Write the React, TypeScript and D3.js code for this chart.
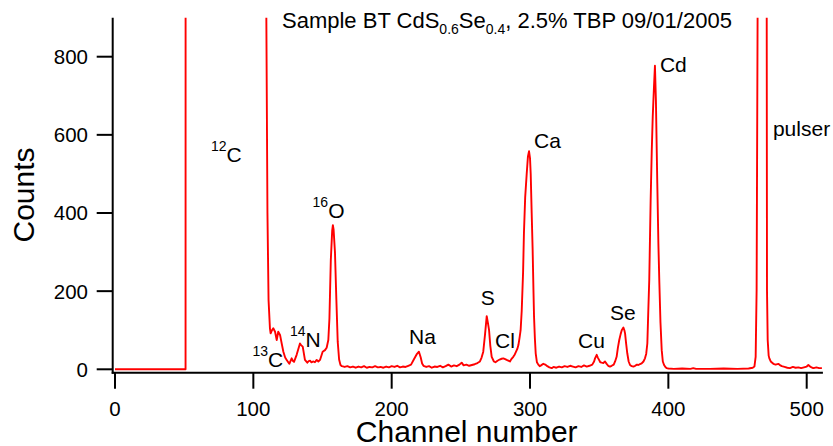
import React from "react";
import * as d3 from "d3";

// ---- data (channel, counts) ----
const channels: number[] = [
  0, 51, 51.2, 108.5, 109.4, 110.2, 111, 112, 112.5, 113.5, 114.4, 115.7, 116.9, 118, 119.3, 120.5, 121.7, 123, 124.1, 126,
  127.7, 128.5, 129.4, 131.3, 133.7, 134.5, 135.7, 137.3, 139, 140, 141, 142, 143.4, 144.5, 145.8, 147, 148.2, 150.1, 151.8, 153,
  154.2, 155, 156, 157, 157.5, 158, 159, 160, 161, 162, 163, 164, 166, 168, 170, 172, 174, 176, 178, 180,
  182, 184, 186, 188, 190, 192, 194, 196, 198, 200, 202, 204, 206, 208, 210, 212, 214, 216, 218, 219.7,
  221, 222, 223, 225, 227, 229, 231, 233, 235, 237, 239, 241, 243, 245, 247, 249, 250.6, 252, 254, 256,
  258, 260, 262, 263.8, 265, 266.2, 267.5, 268.7, 269.5, 270.4, 271.3, 272.3, 273.9, 275, 276.5, 278, 279.5, 280.7, 282, 283.1,
  284.3, 285.5, 286.5, 287.9, 289, 289.9, 290.8, 291.6, 292.4, 293.2, 294, 295, 295.6, 296.5, 297.6, 298.5, 299.3, 300, 300.5, 301.2,
  301.9, 302.5, 302.9, 303.5, 304.1, 305, 306, 307, 308, 309.6, 311, 312.5, 314, 315.7, 317, 319, 321, 323, 325, 327,
  329, 331, 333, 335, 337, 339, 341, 343, 345, 346.3, 347, 348.2, 349, 349.9, 350.8, 351.8, 353, 354.2, 355.4, 356.5,
  357.8, 359, 360.5, 361.5, 362.6, 363.5, 364.5, 365.5, 366.3, 367.5, 368.2, 368.7, 369.5, 370.3, 371.3, 372.3, 373.5, 374.7, 376, 377.3,
  378.3, 379.5, 380.7, 382, 383.1, 384, 384.8, 385.5, 386.2, 387.2, 388, 388.7, 389.6, 390.3, 391, 392, 392.8, 393.5, 394.3, 395.2,
  396, 396.9, 398, 398.8, 400, 404, 410, 416, 418, 420, 430, 440, 450, 458, 461, 462.2, 463.1, 463.8, 464.5, 465,
  470.5, 471.1, 471.3, 471.8, 472.5, 473, 474, 475.9, 477.5, 479.5, 481, 482, 484, 486, 487.9, 490, 492, 494, 496, 498,
  500, 501.2, 502.5, 504, 505, 507, 509, 511,
];
const counts: number[] = [
  0, 0, 6000, 3000, 900, 400, 177, 105, 92, 100, 105, 96, 75, 96, 88, 66, 45, 30, 24, 14,
  28, 22, 19, 37, 66, 62, 58, 24, 17, 21, 22, 18, 20, 18, 24, 20, 24, 45, 49, 55,
  75, 130, 280, 355, 369, 358, 300, 180, 70, 25, 11, 8, 6, 8, 5, 7, 4, 7, 5, 8,
  4, 6, 5, 8, 5, 6, 4, 7, 5, 8, 6, 9, 5, 7, 6, 9, 12, 25, 38, 45,
  30, 15, 9, 6, 8, 4, 7, 6, 9, 5, 8, 12, 7, 10, 8, 12, 17, 10, 12, 9,
  11, 13, 16, 20, 30, 45, 90, 136, 120, 100, 60, 32, 20, 18, 22, 25, 27, 28, 26, 24,
  22, 20, 26, 32, 38, 45, 52, 62, 80, 100, 150, 250, 348, 440, 500, 545, 558, 540, 500, 400,
  305, 200, 135, 80, 41, 18, 12, 8, 10, 14, 12, 8, 5, 3, 6, 4, 7, 5, 8, 6,
  9, 7, 5, 8, 6, 10, 7, 9, 12, 20, 28, 37, 30, 24, 18, 17, 16, 20, 14, 9,
  7, 9, 12, 20, 32, 55, 75, 90, 100, 107, 100, 92, 65, 41, 20, 11, 8, 7, 9, 12,
  11, 13, 15, 20, 28, 40, 66, 150, 230, 433, 560, 646, 723, 777, 689, 476, 320, 220, 120, 49,
  20, 11, 5, 3, 2, 1, 2, 1, 3, 1, 1, 2, 1, 2, 4, 7, 32, 203, 900, 6000,
  6000, 900, 203, 75, 35, 28, 20, 14, 12, 14, 10, 8, 6, 4, 3, 6, 4, 5, 3, 5,
  7, 11, 7, 4, 3, 5, 3, 3,
];

const xTicks: number[] = [0, 100, 200, 300, 400, 500];
const yTicks: number[] = [0, 200, 400, 600, 800];

// peak labels: superscript, element, anchor channel, anchor counts
const labelSup: string[] = ["12", "13", "14", "16", "", "", "", "", "", "", "", ""];
const labelText: string[] = ["C", "C", "N", "O", "Na", "S", "Cl", "Ca", "Cu", "Se", "Cd", "pulser"];
const labelChannel: number[] = [69.4, 99.4, 126.5, 142.8, 212.5, 264.3, 274.7, 302.9, 334.7, 357.8, 393.9, 475.6];
const labelCounts: number[] = [530, 7, 58, 386, 66, 164, 54, 567, 54, 126, 760, 596];

const FONT = "'Liberation Sans', Arial, Helvetica, sans-serif";

export default function App() {
  const x = d3.scaleLinear().domain([0, 500]).range([115, 806.7]);
  const y = d3.scaleLinear().domain([0, 800]).range([369.3, 56.7]);
  const axisX = 112.7;
  const axisY = 372.7;
  const yTop = y(900);
  const xRight = x(511) + 1;

  const pts: [number, number][] = channels.map((c, i) => [c, counts[i]]);
  const line = d3
    .line<[number, number]>()
    .x((d) => x(d[0]))
    .y((d) => y(d[1]));

  return (
    <svg
      width={833}
      height={446}
      style={{ position: "absolute", left: 0, top: 0, background: "#fff" }}
      fontFamily={FONT}
    >
      <defs>
        <clipPath id="plotclip">
          <rect x={axisX} y={yTop} width={833 - axisX} height={axisY - yTop} />
        </clipPath>
      </defs>
      <rect x={0} y={0} width={833} height={446} fill="#fff" />

      {/* spectrum */}
      <path
        d={line(pts) || ""}
        fill="none"
        stroke="#ff0000"
        strokeWidth={1.9}
        strokeLinejoin="round"
        clipPath="url(#plotclip)"
      />

      {/* y axis */}
      <line x1={axisX} x2={axisX} y1={yTop} y2={axisY + 1} stroke="#000" strokeWidth={2} />
      {yTicks.map((t) => (
        <g key={"yt" + t}>
          <line x1={axisX - 16} x2={axisX} y1={y(t)} y2={y(t)} stroke="#000" strokeWidth={2} />
          <text x={88} y={y(t)} dy="0.36em" textAnchor="end" fontSize={20.5} fill="#000">
            {t}
          </text>
        </g>
      ))}

      {/* x axis */}
      <line x1={axisX - 1} x2={xRight} y1={axisY} y2={axisY} stroke="#000" strokeWidth={2} />
      {xTicks.map((t) => (
        <g key={"xt" + t}>
          <line x1={x(t)} x2={x(t)} y1={axisY} y2={axisY + 16} stroke="#000" strokeWidth={2} />
          <text x={x(t)} y={416} textAnchor="middle" fontSize={20.5} fill="#000">
            {t}
          </text>
        </g>
      ))}

      {/* axis titles */}
      <text x={466.7} y={441.5} textAnchor="middle" fontSize={30} fill="#000">
        Channel number
      </text>
      <text transform="translate(34,195) rotate(-90)" textAnchor="middle" fontSize={30} fill="#000">
        Counts
      </text>

      {/* title */}
      <text x={282} y={28.3} fontSize={22} fill="#000">
        Sample BT CdS
        <tspan fontSize={14} dy={6}>0.6</tspan>
        <tspan dy={-6}>Se</tspan>
        <tspan fontSize={14} dy={6}>0.4</tspan>
        <tspan dy={-6}>, 2.5% TBP 09/01/2005</tspan>
      </text>

      {/* peak labels */}
      {labelText.map((t, i) => (
        <text key={"lb" + i} x={x(labelChannel[i])} y={y(labelCounts[i])} fontSize={21} fill="#000">
          {labelSup[i] ? (
            <>
              <tspan fontSize={14} dy={-11}>{labelSup[i]}</tspan>
              <tspan dy={11}>{t}</tspan>
            </>
          ) : (
            t
          )}
        </text>
      ))}
    </svg>
  );
}
